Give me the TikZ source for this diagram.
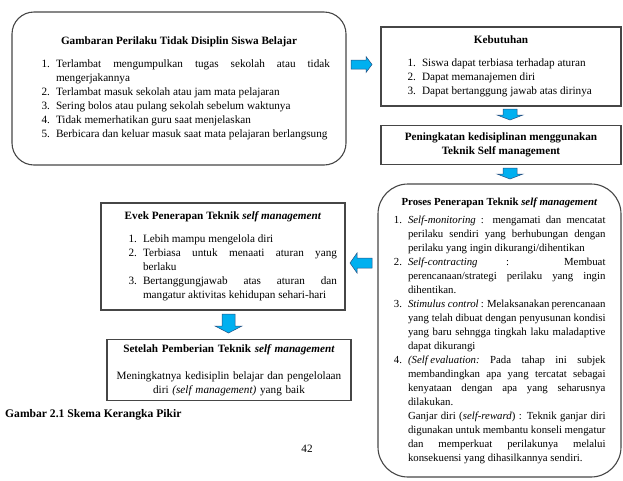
\documentclass[tikz,border=0pt]{standalone}
\usepackage{fontspec}
\setmainfont{Liberation Serif}
\usepackage{enumitem}
\setlist[enumerate]{nosep,label=\arabic*.,labelsep=6pt}
\hyphenpenalty=10000
\tolerance=10000
\hbadness=10000
\hfuzz=20pt
\newcommand\miring[1]{\smash{\textit{#1}}}
\definecolor{birulangit}{RGB}{0,176,240}
\definecolor{garisbiru}{RGB}{40,80,130}
\definecolor{garis}{RGB}{70,70,70}

\begin{document}
\begin{tikzpicture}[x=1pt,y=-1pt,
  every node/.style={font=\fontsize{11.2}{14}\selectfont},
  kotak/.style={draw=garis,line width=1.1pt,inner sep=0pt},
  kotakbulat/.style={kotak,rounded corners=22pt},
  isi/.style={align=justify},
  judul/.style={font=\fontsize{11.2}{14}\selectfont\bfseries},
  panah/.style={fill=birulangit,draw=garisbiru,line width=0.5pt}]
\useasboundingbox (0,0) rectangle (623,480);

%kotak kiri atas
\node[kotakbulat,isi,minimum width=334pt,minimum height=153pt,text width=302pt] (gambaran) at (179,88.5)
{{\centering\bfseries Gambaran Perilaku Tidak Disiplin Siswa Belajar\par}\vspace{9pt}
\begin{enumerate}[leftmargin=28pt]
\item Terlambat mengumpulkan tugas sekolah atau tidak\linebreak mengerjakannya
\item Terlambat masuk sekolah atau jam mata pelajaran
\item Sering bolos atau pulang sekolah sebelum waktunya
\item Tidak memerhatikan guru saat menjelaskan
\item Berbicara dan keluar masuk saat mata pelajaran berlangsung
\end{enumerate}\vspace{11pt}};

%kotak kanan
\node[kotak,isi,minimum width=240pt,minimum height=79pt,text width=220pt] (kebutuhan) at (501,66.5)
{{\centering\bfseries Kebutuhan\par}\vspace{9pt}
\begin{enumerate}[leftmargin=31pt]
\item Siswa dapat terbiasa terhadap aturan
\item Dapat memanajemen diri
\item Dapat bertanggung jawab atas dirinya
\end{enumerate}};

\node[kotak,judul,minimum width=240pt,minimum height=39pt,align=center] (peningkatan) at (501,145)
{Peningkatan kedisiplinan menggunakan\\Teknik Self management};

\node[kotakbulat,isi,rounded corners=30pt,minimum width=243pt,minimum height=293pt,text width=220pt,
  font=\fontsize{10.8}{14}\selectfont] (proses) at (499.5,330.5)
{{\centering\bfseries Proses Penerapan Teknik \textit{self management}\par}\vspace{4pt}
\begin{enumerate}[leftmargin=18.5pt,rightmargin=4pt]
\item \miring{Self-monitoring} : mengamati dan mencatat\linebreak perilaku sendiri yang berhubungan dengan\linebreak perilaku yang ingin dikurangi/dihentikan
\item \miring{Self-contracting} : Membuat\linebreak perencanaan/strategi perilaku yang ingin\linebreak dihentikan.
\item \miring{Stimulus control} : Melaksanakan perencanaan\linebreak yang telah dibuat dengan penyusunan kondisi\linebreak yang baru sehngga tingkah laku maladaptive\linebreak dapat dikurangi
\item \miring{(Self evaluation:} Pada tahap ini subjek\linebreak membandingkan apa yang tercatat sebagai\linebreak kenyataan dengan apa yang seharusnya\linebreak dilakukan.\par
Ganjar diri (\miring{self-reward}) : Teknik ganjar diri\linebreak digunakan untuk membantu konseli mengatur\linebreak dan memperkuat perilakunya melalui\linebreak konsekuensi yang dihasilkannya sendiri.
\end{enumerate}\vspace{18pt}};

%kotak kiri bawah
\node[kotak,isi,minimum width=244pt,minimum height=107pt,text width=228pt] (evek) at (223,256.5)
{{\centering\bfseries Evek Penerapan Teknik \textit{self management}\par}\vspace{9pt}
\begin{enumerate}[leftmargin=34pt]
\item Lebih mampu mengelola diri
\item Terbiasa untuk menaati aturan yang\linebreak berlaku
\item Bertanggungjawab atas aturan dan\linebreak mangatur aktivitas kehidupan sehari-hari
\end{enumerate}\vspace{2pt}};

\node[kotak,minimum width=244pt,minimum height=61pt,text width=236pt,align=center] (setelah) at (229,370)
{{\bfseries Setelah Pemberian Teknik \textit{self management}\par}\vspace{13pt}
Meningkatnya kedisiplin belajar dan pengelolaan\\diri \miring{(self management)} yang baik};

%keterangan
\node[font=\fontsize{11.6}{14}\selectfont\bfseries,anchor=west,inner sep=0pt] (gambar) at (5,415) {Gambar 2.1 Skema Kerangka Pikir};
\node[inner sep=0pt] (halaman) at (307,449) {42};

%panah
\foreach \px/\py/\rot/\pl/\ps/\ph/\pk in
  {361.5/64.5/0/21/9/16/6, 510/114.5/-90/11/14/26/5, 510/173.5/-90/11/14/26/5,
   361/263/180/22/10/20/7, 228.5/323.5/-90/19/13/27/7}
  \draw[panah,shift={(\px,\py)},rotate=\rot]
    (-\pl/2,-\ps/2) -- (\pl/2-\pk,-\ps/2) -- (\pl/2-\pk,-\ph/2) -- (\pl/2,0)
    -- (\pl/2-\pk,\ph/2) -- (\pl/2-\pk,\ps/2) -- (-\pl/2,\ps/2) -- cycle;
\end{tikzpicture}
\end{document}
